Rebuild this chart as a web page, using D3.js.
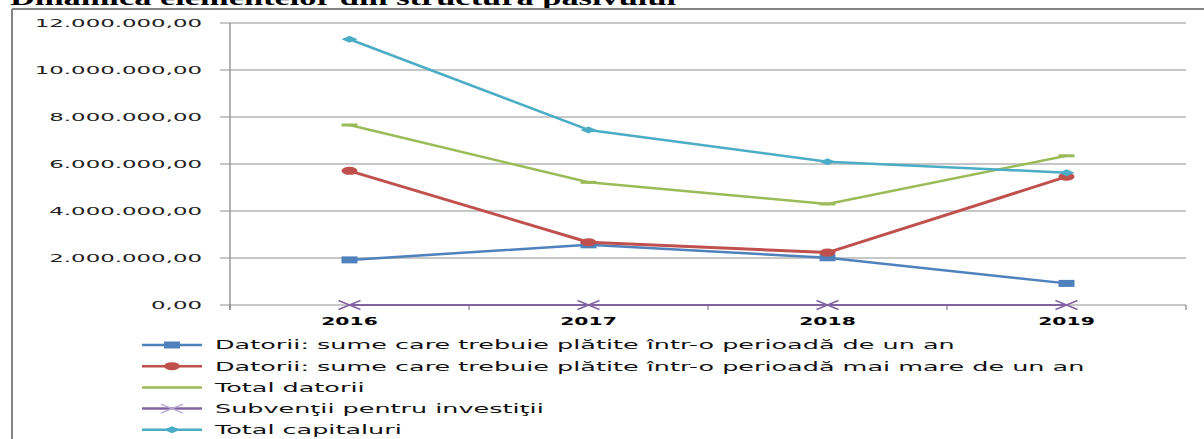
<!DOCTYPE html>
<html><head><meta charset="utf-8">
<script src="https://cdn.jsdelivr.net/npm/d3@7"></script>
<style>html,body{margin:0;padding:0;background:#fff;overflow:hidden}</style>
</head><body>
<svg id="c" width="1204" height="439"></svg>
<script>
const title = "Dinamica elementelor din structura pasivului";
const years = ["2016","2017","2018","2019"];
const seriesNames = [
  "Datorii: sume care trebuie plătite într-o perioadă de un an",
  "Datorii: sume care trebuie plătite într-o perioadă mai mare de un an",
  "Total datorii",
  "Subvenţii pentru investiţii",
  "Total capitaluri"
];
const datoriiSub1An = [1920000, 2560000, 2010000, 920000];
const datoriiPeste1An = [5710000, 2670000, 2230000, 5460000];
const totalDatorii = [7660000, 5220000, 4300000, 6350000];
const subventii = [0, 0, 0, 0];
const totalCapitaluri = [11310000, 7450000, 6100000, 5630000];
const yTicks = [0, 2000000, 4000000, 6000000, 8000000, 10000000, 12000000];

const seriesValues = [datoriiSub1An, datoriiPeste1An, totalDatorii, subventii, totalCapitaluri];
const colors = ["#4F81BD", "#C0504D", "#9BBB59", "#8064A2", "#4BACC6"];
const markers = ["square", "circle", "dash", "x", "diamond"];
const widths = [2.5, 3, 2.5, 2, 2.5];

const svg = d3.select("#c");
const SX = 1.96;
const FONT = "DejaVu Sans, Verdana, sans-serif";

function stext(g, x, y, str, opts) {
  const gg = g.append("g").attr("transform", `translate(${x},${y}) scale(${opts.sx || SX},1)`);
  return gg.append("text").text(str)
    .attr("font-family", opts.family || FONT)
    .attr("font-size", opts.size)
    .attr("font-weight", opts.weight || "normal")
    .attr("fill", opts.fill || "#000")
    .attr("text-anchor", opts.anchor || "start")
    .attr("dominant-baseline", opts.baseline || "auto");
}

// title (mostly cut off at top, as in the original)
stext(svg, 10, 5, title, {family: "Liberation Serif, Times New Roman, serif", size: 20, weight: "bold", sx: 1.72});

// frame
svg.append("line").attr("x1", 12).attr("x2", 1204).attr("y1", 9).attr("y2", 9).attr("stroke", "#858585").attr("stroke-width", 2);
svg.append("line").attr("x1", 12).attr("x2", 12).attr("y1", 9).attr("y2", 439).attr("stroke", "#858585").attr("stroke-width", 2);

const x = d3.scaleBand().domain(years).range([230, 1186]).padding(0);
const y = d3.scaleLinear().domain([0, 12000000]).range([305, 23]);
const cx = d => x(d) + x.bandwidth() / 2;

const loc = d3.formatLocale({decimal: ",", thousands: ".", grouping: [3], currency: ["", ""]});
const fmt = loc.format(",.2f");

// gridlines + y ticks
const grid = svg.append("g");
yTicks.forEach(t => {
  grid.append("line").attr("x1", 220).attr("x2", 1186).attr("y1", y(t)).attr("y2", y(t))
    .attr("stroke", "#b4b4b4").attr("stroke-width", 1.3);
  stext(svg, 202, y(t), fmt(t), {size: 11, anchor: "end", baseline: "central", fill: "#222", sx: 2.08});
});
// y axis line
svg.append("line").attr("x1", 230).attr("x2", 230).attr("y1", y(12000000)).attr("y2", 310)
  .attr("stroke", "#8a8a8a").attr("stroke-width", 1.3);
// x axis ticks at band edges
const edges = years.map(d => x(d)).concat([x.range()[1]]);
edges.forEach(e => {
  svg.append("line").attr("x1", e).attr("x2", e).attr("y1", y(0)).attr("y2", 310)
    .attr("stroke", "#8a8a8a").attr("stroke-width", 1.3);
});
years.forEach(d => stext(svg, cx(d), 321, d, {size: 11, weight: "bold", anchor: "middle", baseline: "central", sx: 1.85}));

function drawMarker(g, type, px, py, color, legend) {
  if (type === "square") {
    g.append("rect").attr("x", px - 8).attr("y", py - 3.5).attr("width", 16).attr("height", 7).attr("fill", color);
  } else if (type === "circle") {
    g.append("ellipse").attr("cx", px).attr("cy", py).attr("rx", 8).attr("ry", 4).attr("fill", color);
  } else if (type === "dash") {
    if (!legend) g.append("rect").attr("x", px - 8).attr("y", py - 1.5).attr("width", 16).attr("height", 3).attr("fill", color);
  } else if (type === "x") {
    g.append("path").attr("d", `M${px-11},${py-4.5}L${px+11},${py+4.5}M${px-11},${py+4.5}L${px+11},${py-4.5}`)
      .attr("stroke", legend ? "#b9a9d2" : color).attr("stroke-width", 1.5).attr("fill", "none");
  } else if (type === "diamond") {
    g.append("path").attr("d", `M${px-8},${py}L${px},${py-3.5}L${px+8},${py}L${px},${py+3.5}Z`).attr("fill", color);
  }
}

const line = d3.line().x((v, i) => cx(years[i])).y(v => y(v));
seriesValues.forEach((vals, s) => {
  const g = svg.append("g");
  g.append("path").attr("d", line(vals)).attr("fill", "none").attr("stroke", colors[s])
    .attr("stroke-width", widths[s]).attr("stroke-linejoin", "round");
  vals.forEach((v, i) => drawMarker(g, markers[s], cx(years[i]), y(v), colors[s], false));
});

// legend
const legY0 = 345, legDY = 21.2;
seriesNames.forEach((name, s) => {
  const ly = legY0 + s * legDY;
  const g = svg.append("g");
  g.append("line").attr("x1", 142).attr("x2", 202).attr("y1", ly).attr("y2", ly)
    .attr("stroke", colors[s]).attr("stroke-width", 2.5);
  drawMarker(g, markers[s], 172, ly, colors[s], true);
  stext(svg, 215, ly, name, {size: 13, baseline: "central", fill: "#111"});
});
</script>
</body></html>
